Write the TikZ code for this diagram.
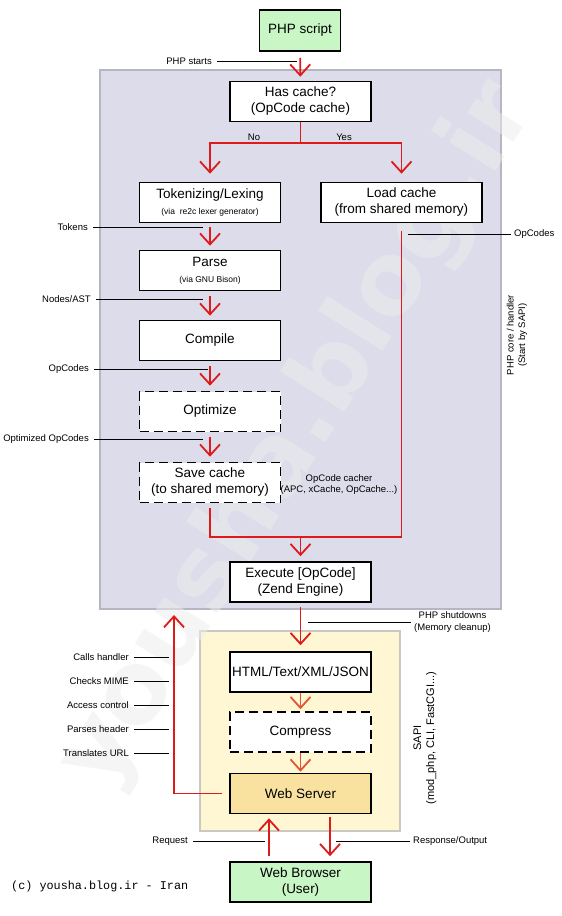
\documentclass[tikz,border=0pt]{standalone}
\usepackage{fontspec}
\setmainfont{Liberation Sans}
\setmonofont{Liberation Mono}
\newfontfamily\markfont{DejaVu Sans}
\usepackage{tikz}
\usetikzlibrary{arrows.meta,positioning,calc}
\definecolor{flowred}{HTML}{DE1A1A}
\definecolor{floworange}{HTML}{E2552E}
\definecolor{coregray}{HTML}{DCDCEA}
\definecolor{coreedge}{HTML}{B6B6C0}
\definecolor{sapiyellow}{HTML}{FFF7D3}
\definecolor{sapiedge}{HTML}{C9C9C2}
\definecolor{usergreen}{HTML}{C8F6C4}
\definecolor{servergold}{HTML}{F9E2A0}
\newcommand{\subtxt}{\fontsize{8.5}{10}\selectfont}

\begin{document}
\begin{tikzpicture}[x=1pt, y=-1pt,
  stepbox/.style={
    rectangle,
    draw=black,
    line width=1.6pt,
    fill=white,
    minimum width=141pt,
    minimum height=40pt,
    align=center,
    inner sep=2pt,
    font=\fontsize{13.5}{16}\selectfont
  },
  dashbox/.style={stepbox, dash pattern=on 9pt off 5pt},
  userbox/.style={stepbox, fill=usergreen},
  flow/.style={-{Straight Barb[length=11pt,width=20pt]}, line width=1.8pt, draw=flowred},
  flowline/.style={line width=1.8pt, draw=flowred},
  sapiflow/.style={flow, draw=floworange},
  note/.style={font=\fontsize{9.5}{11.5}\selectfont, inner sep=1pt, align=center},
  tick/.style={draw=black, line width=0.8pt}
]

\useasboundingbox (0,0) rectangle (562,916);
\fill[white] (0,0) rectangle (562,916);

% panels
\draw[fill=coregray, draw=coreedge, line width=1.2pt] (100,70) rectangle (501,609);
\draw[fill=sapiyellow, draw=sapiedge, line width=1.2pt] (200,631) rectangle (400,831);

% watermark
\node[font=\markfont\bfseries\fontsize{100}{100}\selectfont, text=black!7, text opacity=0.5, rotate=58] (mark) at (298,436) {yousha.blog.ir};

% boxes
\node[userbox, minimum width=81pt, minimum height=41pt] (script) at (300,30.5) {PHP script};
\node[stepbox] (hascache) at (300.5,101.5) {Has cache?\\(OpCode cache)};
\node[stepbox] (lexer) at (210,202.5) {Tokenizing/Lexing\\{\subtxt (via\ \ re2c lexer generator)}};
\node[stepbox, minimum width=161pt] (loadcache) at (401.5,202.5) {Load cache\\(from shared memory)};
\node[stepbox] (parse) at (210,270.5) {Parse\\{\subtxt (via GNU Bison)}};
\node[stepbox] (compile) at (210,340.5) {Compile};
\node[dashbox] (optimize) at (210,411.5) {Optimize};
\node[dashbox] (savecache) at (210,482.5) {Save cache\\(to shared memory)};
\node[stepbox] (execute) at (300.5,582) {Execute [OpCode]\\(Zend Engine)};
\node[stepbox] (output) at (300.5,672) {HTML/Text/XML/JSON};
\node[dashbox] (compress) at (300.5,732) {Compress};
\node[stepbox, fill=servergold] (webserver) at (300.5,793.5) {Web Server};
\node[userbox] (browser) at (300.5,882) {Web Browser\\(User)};

% flow
\coordinate (split) at (300.5,143);
\coordinate (join) at (300.5,537);
\coordinate (callback) at (174,615);
\draw[flow, shorten <=6pt, shorten >=4pt] (script) -- (hascache);
\draw[flowline] (hascache) -- (split);
\draw[flow, shorten >=8pt] (split) -| (lexer);
\draw[flow, shorten >=8pt] (split) -| (loadcache);
\draw[flow, shorten <=4pt, shorten >=4pt] (lexer) -- (parse);
\draw[flow, shorten <=5pt, shorten >=4pt] (parse) -- (compile);
\draw[flow, shorten <=5pt, shorten >=5pt] (compile) -- (optimize);
\draw[flow, shorten <=5pt, shorten >=5pt] (optimize) -- (savecache);
\draw[flowline, shorten <=8pt] (loadcache) |- (join);
\draw[flowline, shorten <=5pt] (savecache) |- (join);
\draw[flow, shorten >=5pt] (join) -- (execute);
\draw[flow, shorten <=4pt, shorten >=6pt] (execute) -- (output);
\draw[sapiflow, shorten >=2pt] (output) -- (compress);
\draw[sapiflow, shorten >=1pt] (compress) -- (webserver);
\draw[flow, shorten <=7pt] (webserver) -| (callback);
\draw[flow, shorten <=5pt, shorten >=4pt] ([xshift=-31.5pt]browser.north) -- ([xshift=-31.5pt]webserver.south);
\draw[flow, shorten <=3pt, shorten >=5pt] ([xshift=29.5pt]webserver.south) -- ([xshift=29.5pt]browser.north);

% branch labels
\node[note] (nolbl) at (254,137) {No};
\node[note] (yeslbl) at (344,137) {Yes};

% labels on the left
\foreach \txt/\tx/\ty/\ex [count=\i] in {
  {PHP starts}/213/61/297, {Tokens}/89/227/203, {Nodes/AST}/92/299/203,
  {OpCodes}/90/369/208, {Optimized OpCodes}/90/439/203, {Request}/189/841/265,
  {Calls handler}/130/657/169, {Checks MIME}/130/681/169, {Access control}/130/705/169,
  {Parses header}/130/729/169, {Translates URL}/130/753/169} {
  \node[note, anchor=east] (leftlbl\i) at (\tx,\ty) {\txt};
  \coordinate (leftend\i) at (\ex,\ty);
  \draw[tick, shorten <=4pt] (leftlbl\i) -- (leftend\i);
}

% labels on the right
\foreach \txt/\tx/\ty/\sx [count=\i] in {
  {OpCodes}/513/234/408, {PHP shutdowns\\(Memory cleanup)}/413/622/308,
  {Response/Output}/412/841/336} {
  \node[note, anchor=west] (rightlbl\i) at (\tx,\ty) {\txt};
  \coordinate (rightstart\i) at (\sx,\ty);
  \draw[tick, shorten >=2pt] (rightstart\i) -- (rightlbl\i);
}

\node[note] (cacher) at (339,484.5) {OpCode cacher\\(APC, xCache, OpCache...)};
\node[note, rotate=90] (corenote) at (517,335) {PHP core / handler\\(Start by SAPI)};
\node[note, rotate=90, font=\fontsize{11}{13}\selectfont] (sapinote) at (425,738) {SAPI\\(mod\_php, CLI, FastCGI...)};

\node[anchor=west, inner sep=0pt, font=\ttfamily\fontsize{11.8}{14}\selectfont] (credit) at (11,886) {(c) yousha.blog.ir - Iran};

\end{tikzpicture}
\end{document}
